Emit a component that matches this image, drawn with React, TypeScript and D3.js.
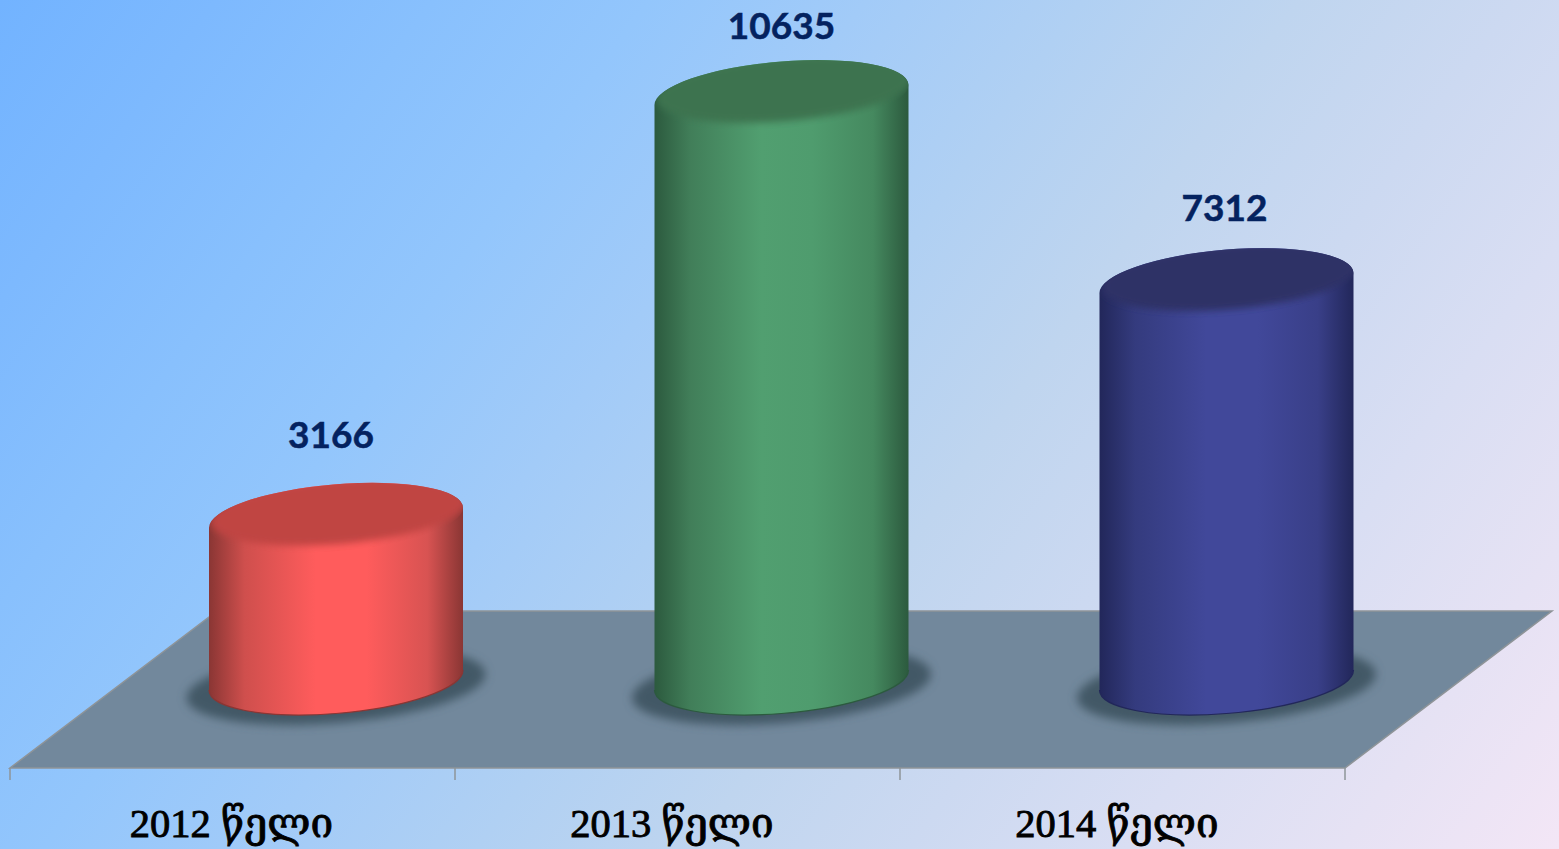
import React, { useEffect } from "react";
import * as d3 from "d3";

const categories = ["2012 წელი", "2013 წელი", "2014 წელი"];
const values = [3166, 10635, 7312];
const sideStops = [
  ["#8a3634", "#cf4f4d", "#ff5c5c", "#ff5c5c", "#d85352", "#8a3634"],
  ["#2c5a3e", "#417e59", "#519f70", "#4f9c6e", "#45895f", "#2c5a3e"],
  ["#22275a", "#343b7e", "#41489a", "#41489a", "#393f88", "#22275a"],
];
const capCentre = ["#c04543", "#3c7350", "#2d3366"];

const W = 1559;
const H = 849;
const RX = 127.4;
const RY = 33.4;
const ROT = -4.84;
const SKEW_X = 127;
const SKEW_Y = 10;
const BASE_Y = 680;

const x = d3.scaleBand<string>().domain(categories).range([10, 1345]).padding(0);
const y = d3.scaleLinear().domain([0, 10635]).range([697, 95]);
const bgColor = d3.scaleLinear<string>()
  .domain([0, 0.3, 0.6, 1])
  .range(["#72b3ff", "#93c6fc", "#bfd5ef", "#f3e6f6"]);
const bgOffsets = d3.range(0, 1.001, 0.1);

const CX_SHIFT = 104;
const labelNudge = [-1, -5.5, -5.5];
const valueNudge = [-5, 0, -2];
const valueGap = [70, 56, 62];

function sidePath(cx: number, top: number) {
  return `M${cx - SKEW_X},${top + SKEW_Y} L${cx - SKEW_X},${BASE_Y + SKEW_Y} ` +
    `A${RX},${RY} ${ROT} 1 0 ${cx + SKEW_X},${BASE_Y - SKEW_Y} L${cx + SKEW_X},${top - SKEW_Y} ` +
    `A${RX},${RY} ${ROT} 1 0 ${cx - SKEW_X},${top + SKEW_Y} Z`;
}

export default function App() {
  useEffect(() => {
    document.body.style.margin = "0";
    document.body.style.overflow = "hidden";
  }, []);
  const bandLefts = categories.map((c) => x(c) as number);
  const ticks = [...bandLefts, 1345];
  return (
    <svg width={W} height={H} viewBox={`0 0 ${W} ${H}`} style={{ position: "fixed", left: 0, top: 0, display: "block" }}>
      <defs>
        <linearGradient id="bg" gradientUnits="userSpaceOnUse" x1={0} y1={0} x2={1434} y2={1024}>
          {bgOffsets.map((o) => <stop key={o} offset={o} stopColor={bgColor(o)} />)}
        </linearGradient>
        {sideStops.map((s, i) => (
          <linearGradient id={`side${i}`} key={i} x1="0" x2="1" y1="0" y2="0">
            {[0, 0.14, 0.42, 0.62, 0.86, 1].map((o, j) => <stop key={o} offset={o} stopColor={s[j]} />)}
          </linearGradient>
        ))}
        <filter id="shadowBlur" x="-20%" y="-50%" width="140%" height="200%"><feGaussianBlur stdDeviation="5" /></filter>
        <filter id="capBlur" x="-20%" y="-50%" width="140%" height="200%"><feGaussianBlur stdDeviation="3.5" /></filter>
      </defs>
      <rect width={W} height={H} fill="url(#bg)" />
      <path d="M10,768 L1345,768 L1552,611 L217,611 Z" fill="#72889c" stroke="#8e9498" strokeWidth={1.5} />
      {ticks.map((t) => <line key={t} x1={t} x2={t} y1={768} y2={780} stroke="#8e9498" strokeWidth={1.5} />)}
      {categories.map((c, i) => {
        const cx = (x(c) as number) + x.bandwidth() / 2 + CX_SHIFT - 0.5 + (i === 0 ? 0 : 0.5);
        const top = y(values[i]);
        return (
          <g key={c}>
            <ellipse cx={cx} cy={BASE_Y + 6} rx={150} ry={37} transform={`rotate(${ROT} ${cx} ${BASE_Y + 6})`} fill="#435966" filter="url(#shadowBlur)" />
            <path d={sidePath(cx, top)} fill={`url(#side${i})`} />
            <path d={`M${cx - SKEW_X},${BASE_Y + SKEW_Y} A${RX},${RY} ${ROT} 1 0 ${cx + SKEW_X},${BASE_Y - SKEW_Y}`} fill="none" stroke={sideStops[i][0]} strokeWidth={1.2} />
            <clipPath id={`cap${i}`}>
              <ellipse cx={cx} cy={top} rx={RX} ry={RY} transform={`rotate(${ROT} ${cx} ${top})`} />
            </clipPath>
            <g clipPath={`url(#cap${i})`}>
              <ellipse cx={cx + 3} cy={top - 6} rx={RX + 1} ry={RY - 1} transform={`rotate(${ROT} ${cx} ${top})`} fill={capCentre[i]} filter="url(#capBlur)" />
            </g>
            <text x={cx + valueNudge[i]} y={top - valueGap[i]} textAnchor="middle" fontFamily="Lato, 'Open Sans', sans-serif" fontWeight={700} fontSize={37} fill="#04225f" stroke="#04225f" strokeWidth={0.5}>{values[i]}</text>
            <text x={(x(c) as number) + x.bandwidth() / 2 + labelNudge[i]} y={837} textAnchor="middle" fontFamily="'Liberation Serif', 'DejaVu Serif', serif" fontSize={40.5} fill="#000" stroke="#000" strokeWidth={0.9}>{c}</text>
          </g>
        );
      })}
    </svg>
  );
}
